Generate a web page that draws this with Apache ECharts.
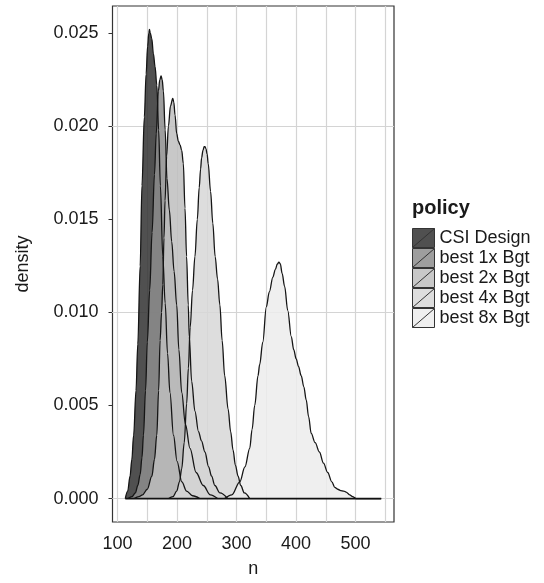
<!DOCTYPE html>
<html>
<head>
<meta charset="utf-8">
<script src="https://cdn.jsdelivr.net/npm/echarts@6/dist/echarts.min.js"></script>
<style>
  html, body { margin: 0; padding: 0; background: #fff; }
  #main { width: 544px; height: 583px; }
</style>
</head>
<body>
<div id="main"></div>
<script>
const policies = ["CSI Design", "best 1x Bgt", "best 2x Bgt", "best 4x Bgt", "best 8x Bgt"];

// density curves (n, density)
const csiN = [113, 117, 121, 124, 127, 131, 134, 138, 141, 145, 148, 150.5, 152.5, 153.6, 155, 157.5, 160.2, 163, 166, 169, 172, 176, 180, 184, 188, 194, 200, 208, 216, 226, 238];
const csiDensity = [0, 0.0004, 0.0012, 0.0021, 0.0034, 0.0058, 0.0083, 0.0125, 0.0168, 0.0205, 0.0228, 0.0243, 0.0250, 0.0252, 0.0250, 0.0247, 0.0239, 0.0232, 0.0222, 0.0198, 0.0168, 0.0130, 0.0105, 0.0078, 0.0057, 0.0034, 0.0020, 0.0009, 0.0004, 0.00015, 0];

const best1xN = [118, 124, 130, 134, 138, 141, 143.5, 147, 150, 154, 158, 162, 165, 168.6, 171, 173.1, 175, 177, 180, 183, 187, 191, 195, 199.4, 203, 207.8, 214, 221.7, 232, 244, 256, 268];
const best1xDensity = [0, 0.0001, 0.0003, 0.0007, 0.0013, 0.0022, 0.0034, 0.0058, 0.0084, 0.0112, 0.0143, 0.0174, 0.0196, 0.0219, 0.0225, 0.0227, 0.0225, 0.0219, 0.0198, 0.0172, 0.0155, 0.0138, 0.0122, 0.0104, 0.0080, 0.0057, 0.0040, 0.0027, 0.0014, 0.0007, 0.0002, 0];

const best2xN = [128, 136, 142, 150, 157.6, 162, 165.9, 169, 171.5, 174, 176, 178, 179.8, 182.5, 185.4, 189, 192.7, 194.5, 196.6, 199.4, 202.1, 205, 207.8, 210.5, 213.3, 216, 218.8, 220.5, 224.5, 230, 236, 241, 246.8, 253, 258, 263.5, 272, 285];
const best2xDensity = [0, 0.0001, 0.0002, 0.0005, 0.0012, 0.0021, 0.0034, 0.0058, 0.0085, 0.0100, 0.0115, 0.0140, 0.0160, 0.0184, 0.0200, 0.0211, 0.0215, 0.0213, 0.0206, 0.0196, 0.0192, 0.0190, 0.0187, 0.0180, 0.0156, 0.0130, 0.0104, 0.0087, 0.0063, 0.0047, 0.0036, 0.0031, 0.0025, 0.0017, 0.0012, 0.0007, 0.0003, 0];

const best4xN = [186, 193, 199.4, 204, 207.8, 212, 216.1, 219, 222, 226, 230, 234, 237.2, 239.5, 241.2, 243.5, 245.5, 246.8, 248.5, 250.5, 252.3, 256.3, 260, 264, 268, 271.9, 275.7, 280, 285.8, 290, 294.1, 298, 302.5, 307, 313, 322];
const best4xDensity = [0, 0.0001, 0.0004, 0.0009, 0.0016, 0.0030, 0.0051, 0.0070, 0.0092, 0.0112, 0.0130, 0.0150, 0.0167, 0.0177, 0.0183, 0.0187, 0.0189, 0.0189, 0.0188, 0.0185, 0.0180, 0.0165, 0.0148, 0.0130, 0.0118, 0.0104, 0.0085, 0.0066, 0.0048, 0.0036, 0.0026, 0.0018, 0.0012, 0.0007, 0.0003, 0];

const best8xN = [280, 292, 305.4, 314, 322.1, 326, 330.5, 336, 338.8, 344, 350, 355, 361, 365, 368.5, 371.1, 373.5, 376.5, 380.7, 386, 391.9, 396, 400.2, 404, 408.6, 413, 417, 421, 425.4, 432, 439.2, 446, 453.1, 460, 465, 469.9, 475, 480, 484, 490, 495, 500.6, 520, 543];
const best8xDensity = [0, 0.0002, 0.0009, 0.0017, 0.0027, 0.0037, 0.0050, 0.0066, 0.0072, 0.0084, 0.0103, 0.0111, 0.0119, 0.0123, 0.0126, 0.0127, 0.0126, 0.0121, 0.0114, 0.0101, 0.0087, 0.0080, 0.0075, 0.0071, 0.0066, 0.0060, 0.0053, 0.0044, 0.0035, 0.0030, 0.0025, 0.0019, 0.0014, 0.0009, 0.0006, 0.0005, 0.00043, 0.0004, 0.00035, 0.0002, 0.0001, 0, 0, 0];

const xTicks = [100, 200, 300, 400, 500];
const yTicks = [0, 0.005, 0.01, 0.015, 0.02, 0.025];
const xGridLines = [100, 150, 200, 250, 300, 350, 400, 450, 500, 550];
const yGridLines = [0, 0.0025, 0.005, 0.0075, 0.01, 0.0125, 0.015, 0.0175, 0.02, 0.0225, 0.025];

const fills = [
  "rgba(49,49,49,0.85)",
  "rgba(141,141,141,0.85)",
  "rgba(190,190,190,0.85)",
  "rgba(215,215,215,0.85)",
  "rgba(236,236,236,0.85)"
];

const curves = [
  [csiN, csiDensity],
  [best1xN, best1xDensity],
  [best2xN, best2xDensity],
  [best4xN, best4xDensity],
  [best8xN, best8xDensity]
];

const font = "Liberation Sans";
const textColor = "#1a1a1a";

const chart = echarts.init(document.getElementById("main"));

const densitySeries = curves.map(([n, d], i) => ({
  name: policies[i],
  type: "line",
  data: n.map((x, j) => [x, d[j]]),
  smooth: 0.35,
  smoothMonotone: "x",
  showSymbol: false,
  symbol: "none",
  silent: true,
  z: 2,
  lineStyle: { color: "#151515", width: 1.3 },
  areaStyle: { color: fills[i], opacity: 1 }
}));

const allN = [].concat(...curves.map(c => c[0]));

const option = {
  animation: false,
  backgroundColor: "#fff",
  title: {
    text: "policy",
    left: 412,
    top: 198,
    padding: 0,
    textStyle: { fontFamily: font, fontSize: 20, fontWeight: "bold", color: textColor }
  },
  legend: {
    orient: "vertical",
    left: 412,
    top: 228,
    padding: 0,
    itemGap: 0,
    itemWidth: 22,
    itemHeight: 19,
    selectedMode: false,
    icon: "path://M0,0H22V19H0Z M0,19L22,0",
    itemStyle: { borderColor: "#333", borderWidth: 1 },
    textStyle: { fontFamily: font, fontSize: 18, lineHeight: 19, color: textColor },
    data: policies.map((p, i) => ({ name: p, itemStyle: { color: fills[i] } }))
  },
  grid: {
    left: 112.5,
    right: 150,
    top: 6,
    bottom: 56.3,
    show: true,
    backgroundColor: "#fff",
    borderColor: "#333",
    borderWidth: 1.2
  },
  xAxis: {
    type: "value",
    min: 91.5,
    max: 564.5,
    name: "n",
    nameLocation: "middle",
    nameGap: 38,
    nameTextStyle: { fontFamily: font, fontSize: 18, color: textColor },
    axisLine: { show: false },
    axisTick: { show: true, length: 4, lineStyle: { color: "#333" }, customValues: xTicks },
    axisLabel: { customValues: xTicks, margin: 13, fontFamily: font, fontSize: 18, color: textColor },
    splitLine: { show: false }
  },
  yAxis: {
    type: "value",
    min: -0.00126,
    max: 0.02646,
    name: "density",
    nameLocation: "middle",
    nameGap: 80,
    nameTextStyle: { fontFamily: font, fontSize: 18, color: textColor },
    axisLine: { show: false },
    axisTick: { show: true, length: 4, lineStyle: { color: "#333" }, customValues: yTicks },
    axisLabel: {
      customValues: yTicks,
      margin: 14,
      fontFamily: font,
      fontSize: 18,
      color: textColor,
      formatter: v => v.toFixed(3)
    },
    splitLine: { show: false }
  },
  series: [
    {
      name: "grid",
      type: "line",
      data: [],
      z: 1,
      silent: true,
      markLine: {
        z: 1,
        silent: true,
        symbol: ["none", "none"],
        label: { show: false },
        lineStyle: { color: "#d4d4d4", width: 1.2, type: "solid" },
        data: xGridLines.map(v => ({ xAxis: v })).concat(yGridLines.map(v => ({ yAxis: v })))
      }
    },
    ...densitySeries,
    {
      name: "baseline",
      type: "line",
      data: [[Math.min(...allN), 0], [Math.max(...allN), 0]],
      showSymbol: false,
      symbol: "none",
      silent: true,
      z: 3,
      lineStyle: { color: "#111", width: 1.8 }
    }
  ]
};

chart.setOption(option);
</script>
</body>
</html>
